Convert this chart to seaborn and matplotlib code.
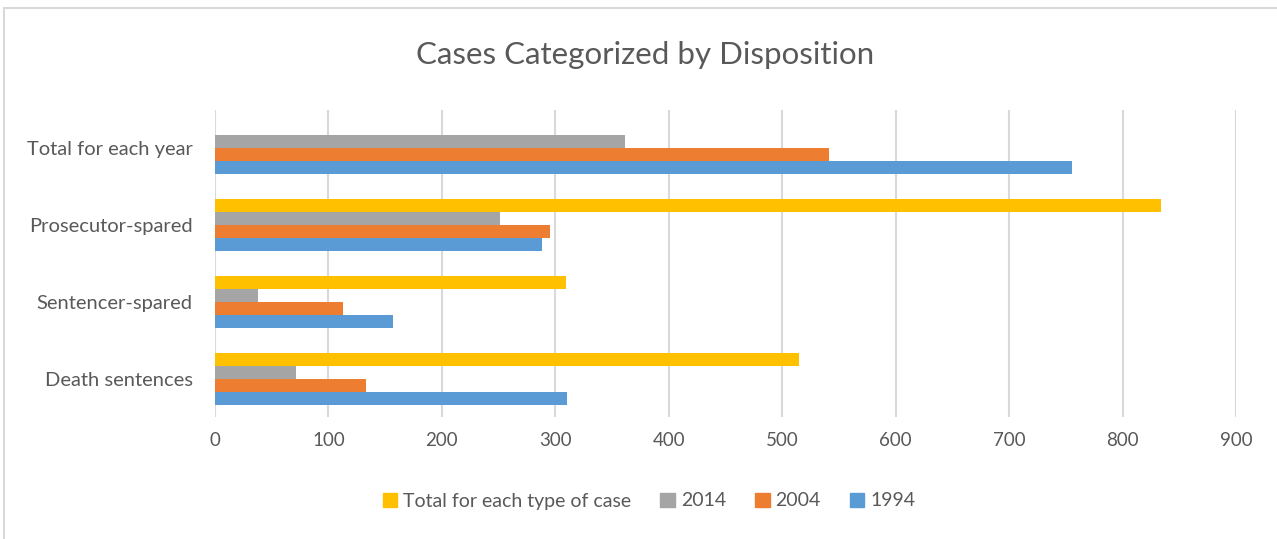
import numpy as np
import pandas as pd
import matplotlib
matplotlib.use("Agg")
import matplotlib.pyplot as plt
import matplotlib.patches as mpatches
import seaborn as sns

## DATA ##

categories = ["Total for each year", "Prosecutor-spared", "Sentencer-spared", "Death sentences"]
v1994 = [755, 288, 157, 310]
v2004 = [541, 295, 113, 133]
v2014 = [361, 251, 38, 71]
v_total = [None, 834, 309, 515]   # no bar for the first category

series = ["Total for each type of case", "2014", "2004", "1994"]
colors = ["#FFC000", "#A5A5A5", "#ED7D31", "#5B9BD5"]
xticks = [0, 100, 200, 300, 400, 500, 600, 700, 800, 900]

##########

rows = []
for name, vals in zip(series, [v_total, v2014, v2004, v1994]):
    for cat, v in zip(categories, vals):
        if v is not None:
            rows.append({"cat": cat, "series": name, "val": v})
df = pd.DataFrame(rows)

sns.set_style("white")
plt.rcParams["font.family"] = ["Lato", "DejaVu Sans"]
txt = "#595959"

fig = plt.figure(figsize=(12.77, 5.39), dpi=100)
ax = fig.add_axes([215 / 1277, 1 - 417 / 539, (1236 - 215) / 1277, (417 - 110) / 539])

sns.barplot(data=df, x="val", y="cat", hue="series", order=categories,
            hue_order=series, palette=colors, orient="h", width=0.68,
            linewidth=0, saturation=1, errorbar=None, ax=ax)

ax.set_xlim(0, 900)
ax.set_xticks(xticks)
ax.set_xlabel("")
ax.set_ylabel("")
ax.grid(axis="x", color="#D9D9D9", linewidth=1.5)
ax.set_axisbelow(True)
for s in ax.spines.values():
    s.set_visible(False)
ax.tick_params(axis="x", length=0, pad=11, labelsize=13.5, labelcolor=txt)
ax.tick_params(axis="y", length=0, pad=16, labelsize=14.5, labelcolor=txt)

# legend at bottom
handles = [mpatches.Patch(color=c, label=s) for c, s in zip(colors, series)]
ax.get_legend().remove()
fig.legend(handles=handles, loc="center", bbox_to_anchor=(649 / 1277, 1 - 501 / 539),
           ncol=4, frameon=False, fontsize=14, labelcolor=txt, handlelength=0.75,
           handleheight=0.75, handletextpad=0.3, columnspacing=1.5)

fig.suptitle("Cases Categorized by Disposition", x=645 / 1277, y=1 - 55 / 539,
             va="center", fontsize=22.5, color=txt)

# chart frame
fig.patches.append(mpatches.Rectangle((4 / 1277, -0.01), 1.1, 1 - 8 / 539 + 0.01,
                                      transform=fig.transFigure, fill=False,
                                      edgecolor="#D9D9D9", linewidth=1.5))

fig.savefig("out.png", dpi=100)
